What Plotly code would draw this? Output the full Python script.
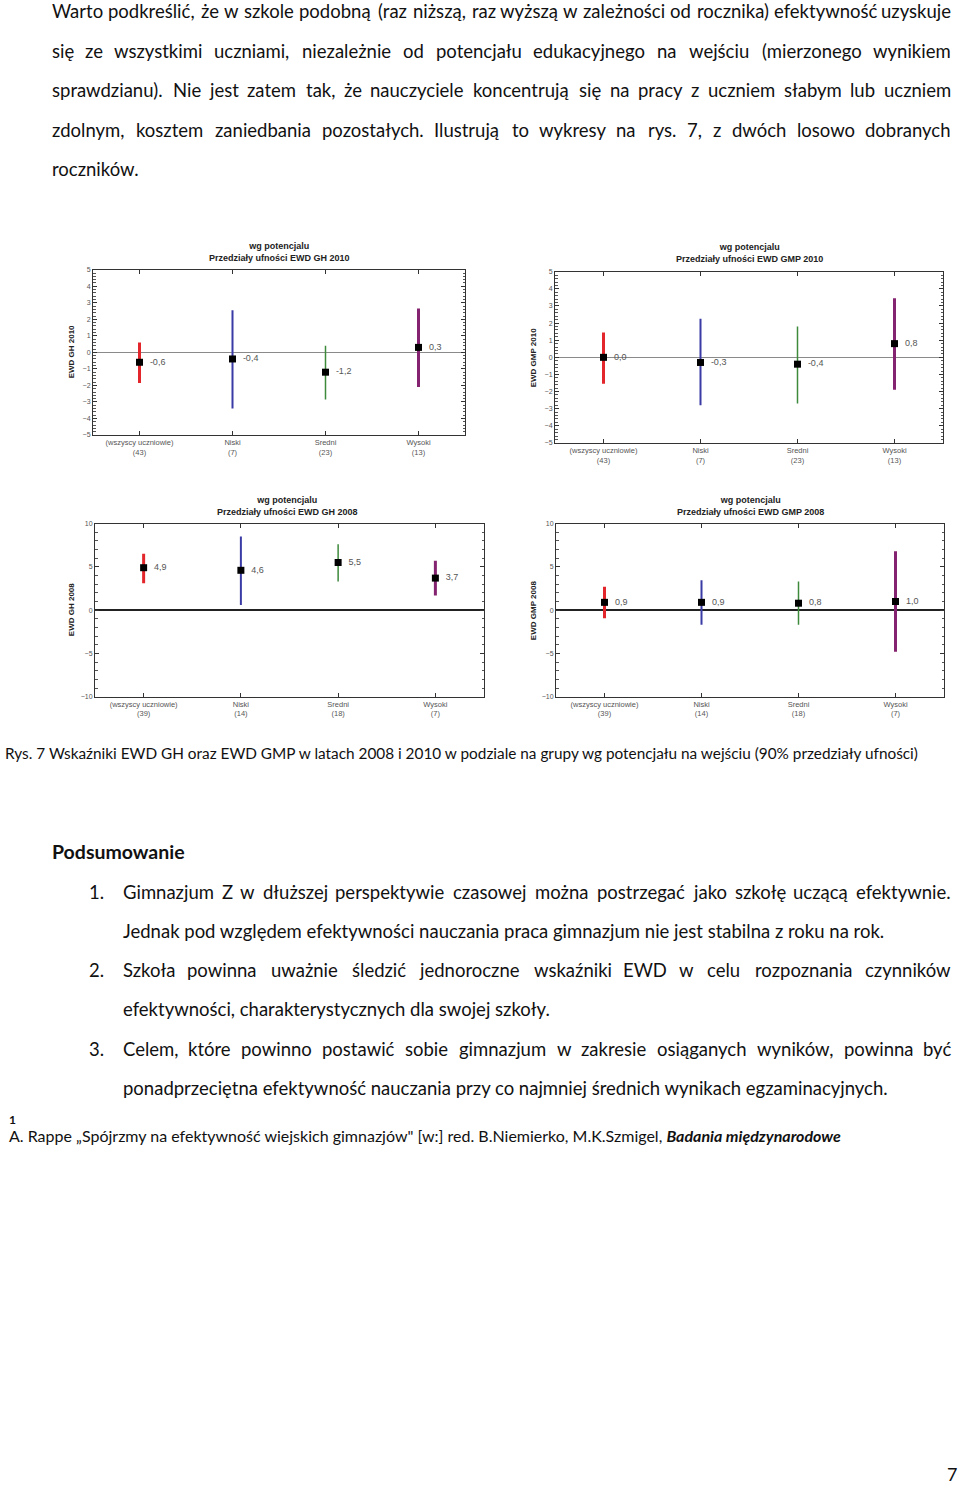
import plotly.graph_objects as go

W, H = 960, 1488

# ---------------- data ----------------
groups = ["(wszyscy uczniowie)", "Niski", "Sredni", "Wysoki"]
group_colors = ["#e3262b", "#3b3ba6", "#3d8a3d", "#84236f"]
group_thickness = [3, 2, 1.5, 3]

n_2010 = [43, 7, 23, 13]
n_2008 = [39, 14, 18, 7]

gh2010_value = [-0.6, -0.4, -1.2, 0.3]
gh2010_low = [-1.85, -3.4, -2.85, -2.1]
gh2010_high = [0.6, 2.55, 0.4, 2.65]

gmp2010_value = [0.0, -0.3, -0.4, 0.8]
gmp2010_low = [-1.55, -2.8, -2.7, -1.9]
gmp2010_high = [1.45, 2.25, 1.8, 3.45]

gh2008_value = [4.9, 4.6, 5.5, 3.7]
gh2008_low = [3.1, 0.6, 3.3, 1.7]
gh2008_high = [6.5, 8.5, 7.6, 5.7]

gmp2008_value = [0.9, 0.9, 0.8, 1.0]
gmp2008_low = [-0.95, -1.7, -1.7, -4.8]
gmp2008_high = [2.7, 3.45, 3.3, 6.8]

charts = [
    dict(title="Przedziały ufności EWD GH 2010", ytitle="EWD GH 2010", v=gh2010_value, lo=gh2010_low,
         hi=gh2010_high, n=n_2010, yr=[-5, 5], dt=1, mdt=0.2, px=(93, 465), py=(267, 433),
         zc="#8a8a8a", zw=1, tx=279, ty=249, ax=71),
    dict(title="Przedziały ufności EWD GMP 2010", ytitle="EWD GMP 2010", v=gmp2010_value, lo=gmp2010_low,
         hi=gmp2010_high, n=n_2010, yr=[-5, 5], dt=1, mdt=0.2, px=(555, 943), py=(269, 441),
         zc="#8a8a8a", zw=1, tx=749, ty=250, ax=533),
    dict(title="Przedziały ufności EWD GH 2008", ytitle="EWD GH 2008", v=gh2008_value, lo=gh2008_low,
         hi=gh2008_high, n=n_2008, yr=[-10, 10], dt=5, mdt=1, px=(95, 484), py=(522, 696),
         zc="#222222", zw=1.5, tx=287, ty=504, ax=71),
    dict(title="Przedziały ufności EWD GMP 2008", ytitle="EWD GMP 2008", v=gmp2008_value, lo=gmp2008_low,
         hi=gmp2008_high, n=n_2008, yr=[-10, 10], dt=5, mdt=1, px=(556, 944), py=(522, 696),
         zc="#222222", zw=1.5, tx=750, ty=504, ax=533),
]

para1 = [
    "Warto podkreślić, że w szkole podobną (raz niższą, raz wyższą w zależności od rocznika) efektywność uzyskuje",
    "się ze wszystkimi uczniami, niezależnie od potencjału edukacyjnego na wejściu (mierzonego wynikiem",
    "sprawdzianu). Nie jest zatem tak, że nauczyciele koncentrują się na pracy z uczniem słabym lub uczniem",
    "zdolnym, kosztem zaniedbania pozostałych. Ilustrują to wykresy na rys. 7, z dwóch losowo dobranych",
    "roczników.",
]
caption = ("Rys. 7 Wskaźniki EWD GH oraz EWD GMP w latach 2008 i 2010 w podziale na grupy wg potencjału "
           "na wejściu (90% przedziały ufności)")
heading = "Podsumowanie"
list_items = [
    ("1.", ["Gimnazjum Z w dłuższej perspektywie czasowej można postrzegać jako szkołę uczącą efektywnie.",
            "Jednak pod względem efektywności nauczania praca gimnazjum nie jest stabilna z roku na rok."]),
    ("2.", ["Szkoła powinna uważnie śledzić jednoroczne wskaźniki EWD w celu rozpoznania czynników",
            "efektywności, charakterystycznych dla swojej szkoły."]),
    ("3.", ["Celem, które powinno postawić sobie gimnazjum w zakresie osiąganych wyników, powinna być",
            "ponadprzeciętna efektywność nauczania przy co najmniej średnich wynikach egzaminacyjnych."]),
]
footnote_mark = "1"
footnote_text = "A. Rappe „Spójrzmy na efektywność wiejskich gimnazjów\" [w:] red. B.Niemierko, M.K.Szmigel, "
footnote_bold = "Badania międzynarodowe"
page_number = "7"

# ---------------- helpers ----------------
def fx(px):
    return px / W

def fy(py):
    return 1 - py / H

def fmt(v):
    return f"{v:.1f}".replace(".", ",")

CAL = {
    " ": 226, "a": 479, "b": 525, "c": 423, "d": 525, "e": 498, "f": 305, "g": 471, "h": 525, "i": 229,
    "j": 239, "k": 455, "l": 229, "m": 799, "n": 525, "o": 527, "p": 525, "q": 525, "r": 349, "s": 391,
    "t": 335, "u": 525, "v": 452, "w": 715, "x": 433, "y": 453, "z": 395,
    "A": 579, "B": 544, "C": 533, "D": 615, "E": 488, "F": 459, "G": 631, "H": 623, "I": 252, "J": 319,
    "K": 520, "L": 420, "M": 855, "N": 646, "O": 662, "P": 517, "R": 543, "S": 459, "T": 487, "U": 642,
    "W": 890, "Z": 468, ".": 252, ",": 250, "(": 303, ")": 303, ":": 268, "%": 715, "-": 306,
    "ł": 236, "ą": 479, "ę": 498, "ś": 391, "ć": 423, "ż": 395, "ź": 395, "ó": 527, "ń": 525, "Ś": 459,
}
for d in "0123456789":
    CAL[d] = 507

def tw_raw(s):
    return sum(CAL.get(ch, 480) for ch in s)

# calibrate: the plain line "Jednak ... rok." spans 763 px in the page
CAL_SCALE = 763.0 / tw_raw(list_items[0][1][1])

def tw(s):
    return tw_raw(s) * CAL_SCALE

BODY_FONT = "Lato"
LATO_PX = 18.5
TEXT_COLOR = "#111111"

annotations = []

def ann(text, x, y, size, xanchor="left", yanchor="middle", family=BODY_FONT, color=TEXT_COLOR, angle=0):
    annotations.append(dict(text=text, x=fx(x), y=fy(y), xref="paper", yref="paper", showarrow=False,
                            xanchor=xanchor, yanchor=yanchor, borderpad=0, textangle=angle,
                            font=dict(family=family, size=size, color=color)))

def justified(line, x0, x1, yc):
    words = line.split(" ")
    widths = [tw(w) for w in words]
    gap = (x1 - x0 - sum(widths)) / (len(words) - 1)
    x = x0
    for i, w in enumerate(words):
        if i == 0:
            ann(w, x0, yc, LATO_PX, xanchor="left")
        elif i == len(words) - 1:
            ann(w, x1, yc, LATO_PX, xanchor="right")
        else:
            ann(w, x + widths[i] / 2, yc, LATO_PX, xanchor="center")
        x += widths[i] + gap

# ---------------- figure ----------------
fig = go.Figure()
layout_axes = {}
for k, c in enumerate(charts, start=1):
    xa = "x" if k == 1 else f"x{k}"
    ya = "y" if k == 1 else f"y{k}"
    cats = [f"{g}<br>({n})" for g, n in zip(groups, c["n"])]
    for i in range(4):
        v = c["v"][i]
        fig.add_trace(go.Scatter(
            x=[cats[i]], y=[v], mode="markers+text", text=["  " + fmt(v)], textposition="middle right",
            textfont=dict(family="Liberation Sans", size=9, color="#555555"),
            marker=dict(symbol="square", size=7, color="black"),
            error_y=dict(type="data", symmetric=False, array=[c["hi"][i] - v], arrayminus=[v - c["lo"][i]],
                         color=group_colors[i], thickness=group_thickness[i], width=0),
            xaxis=xa, yaxis=ya, showlegend=False, cliponaxis=False, hoverinfo="skip"))
    xkey = "xaxis" if k == 1 else f"xaxis{k}"
    ykey = "yaxis" if k == 1 else f"yaxis{k}"
    layout_axes[xkey] = dict(
        domain=[fx(c["px"][0]), fx(c["px"][1])], anchor=ya, type="category",
        categoryorder="array", categoryarray=cats, range=[-0.5, 3.5],
        showline=True, linecolor="#333333", linewidth=1, mirror="ticks",
        ticks="inside", ticklen=4, tickcolor="#333333",
        tickfont=dict(family="Liberation Sans", size=7.5, color="#555555"),
        showgrid=False, zeroline=False, fixedrange=True)
    layout_axes[ykey] = dict(
        domain=[fy(c["py"][1]), fy(c["py"][0])], anchor=xa, range=c["yr"], dtick=c["dt"],
        showline=True, linecolor="#333333", linewidth=1, mirror="ticks",
        ticks="inside", ticklen=4, tickcolor="#333333",
        minor=dict(ticks="inside", ticklen=2.5, dtick=c["mdt"], tickcolor="#555555"),
        tickfont=dict(family="Liberation Sans", size=7, color="#555555"),
        showgrid=False, zeroline=True, zerolinecolor=c["zc"], zerolinewidth=c["zw"], fixedrange=True)
    annotations.append(dict(
        text=f"<b>wg potencjalu</b><br><b>{c['title']}</b>", x=fx(c["tx"]), y=fy(c["ty"]),
        xref="paper", yref="paper", showarrow=False, xanchor="center", yanchor="middle",
        font=dict(family="Liberation Sans", size=9, color="#222222")))
    annotations.append(dict(
        text=f"<b>{c['ytitle']}</b>", x=fx(c["ax"]), y=fy((c["py"][0] + c["py"][1]) / 2),
        xref="paper", yref="paper", showarrow=False, xanchor="center", yanchor="middle", textangle=-90,
        font=dict(family="Liberation Sans", size=8, color="#222222")))

# ---------------- page text ----------------
p1_y = [7.3, 47.0, 86.7, 126.4, 166.1]
for i, line in enumerate(para1):
    if i < len(para1) - 1:
        justified(line, 51, 952, p1_y[i])
    else:
        ann(line, 51, p1_y[i], LATO_PX)

ann(caption, 4, 753, 15.35)
ann(f"<b>{heading}</b>", 51, 851.5, 19.5)

list_y = [(892, 931), (971, 1010), (1049.5, 1089)]
for (num, lines), (y1, y2) in zip(list_items, list_y):
    ann(num, 88, y1, LATO_PX)
    justified(lines[0], 122, 952, y1)
    ann(lines[1], 122, y2, LATO_PX)

ann(f"<b>{footnote_mark}</b>", 8, 1120.5, 12)
ann(footnote_text + f"<b><i>{footnote_bold}</i></b>", 8, 1136.5, 16)
ann(page_number, 958, 1477, 18, xanchor="right")

fig.update_layout(
    width=W, height=H, autosize=False,
    margin=dict(l=0, r=0, t=0, b=0),
    paper_bgcolor="white", plot_bgcolor="white",
    annotations=annotations, **layout_axes)

fig.write_html("out.html", config={"displayModeBar": False},
               post_script="document.body.style.margin='0';")
